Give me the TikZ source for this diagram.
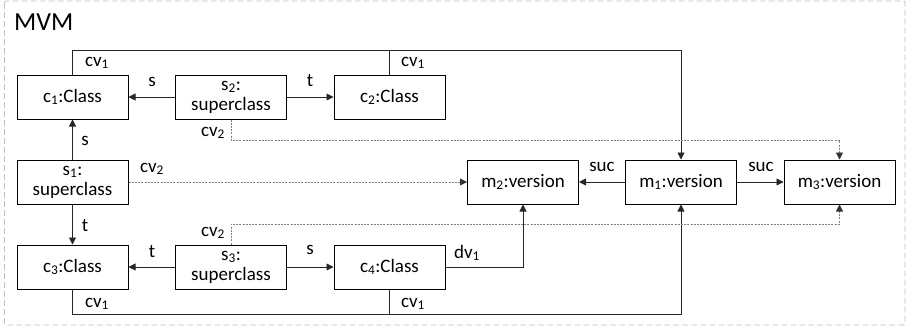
\documentclass[tikz,border=0pt]{standalone}
\usepackage{fontspec}
\setmainfont{Carlito}
\usetikzlibrary{arrows.meta}
\begin{document}
\begin{tikzpicture}[x=1pt,y=-1pt,
  obj/.style={draw, line width=1pt, minimum width=111pt, minimum height=44pt,
    inner sep=0pt, align=center, font=\fontsize{19}{20}\selectfont},
  lbl/.style={font=\fontsize{19}{19}\selectfont, inner sep=0pt},
  link/.style={line width=0.8pt, draw=black!85, -{Triangle[length=7pt,width=7pt]}},
  plain/.style={line width=0.8pt, draw=black!85},
  dotlink/.style={line width=0.8pt, draw=gray, dash pattern=on 2pt off 1.2pt,
    -{Triangle[length=7pt,width=7pt,fill=black!80,color=black!80]}},
]
\useasboundingbox (0,0) rectangle (907,330);
% outer frame of the model
\draw[black!25, dash pattern=on 6pt off 3pt, line width=0.8pt, rounded corners=2pt]
  (4.5,1) rectangle (905,325);
\node[anchor=west, inner sep=0pt, font=\fontsize{26}{28}\selectfont] (title) at (14,22) {MVM};

% objects
\node[obj] (c1) at (72.5,97) {c\textsubscript{1}:Class};
\node[obj] (s2) at (231,97) {s\textsubscript{2}:\\superclass};
\node[obj] (c2) at (389.5,97) {c\textsubscript{2}:Class};
\node[obj] (s1) at (72.5,182) {s\textsubscript{1}:\\superclass};
\node[obj] (c3) at (72.5,267) {c\textsubscript{3}:Class};
\node[obj] (s3) at (231,267) {s\textsubscript{3}:\\superclass};
\node[obj] (c4) at (389.5,267) {c\textsubscript{4}:Class};
\node[obj] (m2) at (523,182) {m\textsubscript{2}:version};
\node[obj] (m1) at (681,182) {m\textsubscript{1}:version};
\node[obj] (m3) at (839.5,182) {m\textsubscript{3}:version};

% routing levels
\coordinate (top) at (0,50);
\coordinate (dottop) at (0,140);
\coordinate (dotbot) at (0,224);
\coordinate (bot) at (0,314);

% superclass edges
\draw[link] (s2) -- (c1);
\draw[link] (s2) -- (c2);
\draw[link] (s1) -- (c1);
\draw[link] (s1) -- (c3);
\draw[link] (s3) -- (c3);
\draw[link] (s3) -- (c4);
\draw[link] (m1) -- (m2);
\draw[link] (m1) -- (m3);

% version edges
\draw[link] (c1.north) -- (c1.north |- top) -| (m1.north);
\draw[plain] (c2.north) -- (c2.north |- top);
\draw[link] (c3.south) -- (c3.south |- bot) -| (m1.south);
\draw[plain] (c4.south) -- (c4.south |- bot);
\draw[link] (c4.east) -| (m2.south);
\draw[dotlink] (s2.south) -- (s2.south |- dottop) -| (m3.north);
\draw[dotlink] (s3.north) -- (s3.north |- dotbot) -| (m3.south);
\draw[dotlink] (s1) -- (m2);

% labels
\node[lbl] (l1) at (97,63) {cv\textsubscript{1}};
\node[lbl] (l2) at (413,63) {cv\textsubscript{1}};
\node[lbl] (l3) at (152,82) {s};
\node[lbl] (l4) at (310,81) {t};
\node[lbl] (l5) at (213,133) {cv\textsubscript{2}};
\node[lbl] (l6) at (85,141) {s};
\node[lbl] (l7) at (152,169) {cv\textsubscript{2}};
\node[lbl] (l8) at (85,226) {t};
\node[lbl] (l9) at (213,233) {cv\textsubscript{2}};
\node[lbl] (l10) at (152,252) {t};
\node[lbl] (l11) at (310,250) {s};
\node[lbl] (l12) at (97,304) {cv\textsubscript{1}};
\node[lbl] (l13) at (413,304) {cv\textsubscript{1}};
\node[lbl] (l14) at (467,253) {dv\textsubscript{1}};
\node[lbl] (l15) at (602,167) {suc};
\node[lbl] (l16) at (761,167) {suc};
\end{tikzpicture}
\end{document}
